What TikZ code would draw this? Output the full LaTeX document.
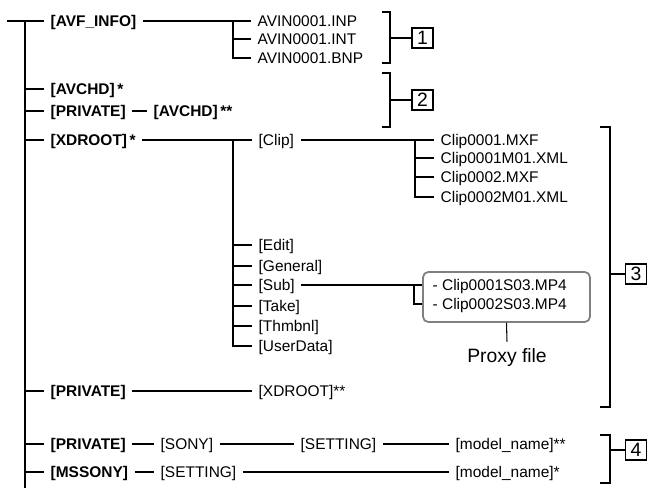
\documentclass[tikz,border=0pt]{standalone}
\usepackage{fontspec}
\setmainfont{Liberation Sans}
\usetikzlibrary{calc}

\begin{document}
\begin{tikzpicture}[x=0.02cm,y=-0.02cm,line width=0.6pt,
        item/.style={anchor=west,inner xsep=3.5pt,inner ysep=1pt,text height=6.3pt,text depth=0pt,font=\fontsize{8.8}{10}\selectfont},
        folder/.style={item,font=\fontsize{8.8}{10}\selectfont\bfseries},
        numbox/.style={draw,line width=0.6pt,minimum width=0.42cm,minimum height=0.4cm,inner sep=0pt,font=\fontsize{11}{12}\selectfont}]
        \useasboundingbox (0,0) rectangle (652,490);

        % root level
        \node[folder] (avf) at (44,21) {[AVF\_INFO]};
        \node[folder] (avchd) at (44,89) {[AVCHD]\,*};
        \node[folder] (priv1) at (44,111) {[PRIVATE]};
        \node[folder] (avchd2) at (147,111) {[AVCHD]\,**};
        \node[folder] (xdroot) at (44,140) {[XDROOT]\,*};
        \node[folder] (priv2) at (44,391) {[PRIVATE]};
        \node[folder] (priv3) at (44,444) {[PRIVATE]};
        \node[folder] (mssony) at (44,472) {[MSSONY]};

        \coordinate (top) at (7,21);
        \coordinate (trunk) at (25,21);
        \coordinate (trunkend) at (25,488);
        \draw (top) -- (avf.west);
        \draw (trunk) -- (trunkend);
        \foreach \n in {avchd,priv1,xdroot,priv2,priv3,mssony}
            \draw (trunk |- \n.west) -- (\n.west);
        \draw (priv1.east) -- (avchd2.west);

        % AVF_INFO
        \node[item] (avin1) at (251,21) {AVIN0001.INP};
        \node[item] (avin2) at (251,39) {AVIN0001.INT};
        \node[item] (avin3) at (251,58) {AVIN0001.BNP};
        \coordinate (avfbus) at (233,21);
        \draw (avf.east) -- (avin1.west);
        \draw (avfbus) |- (avin3.west);
        \draw (avfbus |- avin2.west) -- (avin2.west);

        % XDROOT
        \node[item] (clip) at (252,140) {[Clip]};
        \node[item] (edit) at (252,245) {[Edit]};
        \node[item] (general) at (252,266) {[General]};
        \node[item] (subf) at (252,285) {[Sub]};
        \node[item] (take) at (252,306) {[Take]};
        \node[item] (thmbnl) at (252,326) {[Thmbnl]};
        \node[item] (userdata) at (252,346) {[UserData]};
        \coordinate (xdbus) at (233,140);
        \draw (xdroot.east) -- (clip.west);
        \draw (xdbus) |- (userdata.west);
        \foreach \n in {edit,general,subf,take,thmbnl}
            \draw (xdbus |- \n.west) -- (\n.west);

        \node[item] (mxf1) at (434,140) {Clip0001.MXF};
        \node[item] (xml1) at (434,158) {Clip0001M01.XML};
        \node[item] (mxf2) at (434,177) {Clip0002.MXF};
        \node[item] (xml2) at (434,197) {Clip0002M01.XML};
        \coordinate (clipbus) at (415,140);
        \draw (clip.east) -- (mxf1.west);
        \draw (clipbus) |- (xml2.west);
        \foreach \n in {xml1,mxf2}
            \draw (clipbus |- \n.west) -- (\n.west);

        % proxy files
        \node[draw=black!50,line width=1pt,rounded corners=3pt,minimum width=3.34cm,minimum height=1cm] (proxybox) at (506.5,297) {};
        \node[item] (mp1) at (426,285) {- Clip0001S03.MP4};
        \node[item] (mp2) at (426,304) {- Clip0002S03.MP4};
        \node[font=\fontsize{11}{12}\selectfont] (proxy) at (507,357) {Proxy file};
        \coordinate (subbus) at (414,285);
        \draw (subf.east) -- (subf.east -| proxybox.west);
        \draw (subbus) |- (mp2.west -| proxybox.west);
        \draw (proxybox.south) -- (proxy.north);

        \node[item] (xdroot2) at (252,391) {[XDROOT]**};
        \draw (priv2.east) -- (xdroot2.west);

        % settings
        \node[item] (sony) at (154,444) {[SONY]};
        \node[item] (set1) at (294,444) {[SETTING]};
        \node[item] (model1) at (449,444) {[model\_name]**};
        \node[item] (set2) at (154,472) {[SETTING]};
        \node[item] (model2) at (449,472) {[model\_name]*};
        \draw (priv3.east) -- (sony.west);
        \draw (sony.east) -- (set1.west);
        \draw (set1.east) -- (model1.west);
        \draw (mssony.east) -- (set2.west);
        \draw (set2.east) -- (model2.west);

        % brackets
        \node[numbox] (box1) at (422.5,38) {1};
        \node[numbox] (box2) at (422.5,100) {2};
        \node[numbox] (box3) at (636,274) {3};
        \node[numbox] (box4) at (636,450) {4};
        \draw (382,12) -| (390,63) -- (382,63);
        \draw (382,73) -| (390,127) -- (382,127);
        \draw (600,127) -| (610,407) -- (600,407);
        \draw (600,435) -| (610,483) -- (600,483);
        \coordinate (b1) at (390,38);
        \coordinate (b2) at (390,100);
        \coordinate (b3) at (610,274);
        \coordinate (b4) at (610,450);
        \draw (b1) -- (box1.west);
        \draw (b2) -- (box2.west);
        \draw (b3) -- (box3.west);
        \draw (b4) -- (box4.west);
\end{tikzpicture}
\end{document}
